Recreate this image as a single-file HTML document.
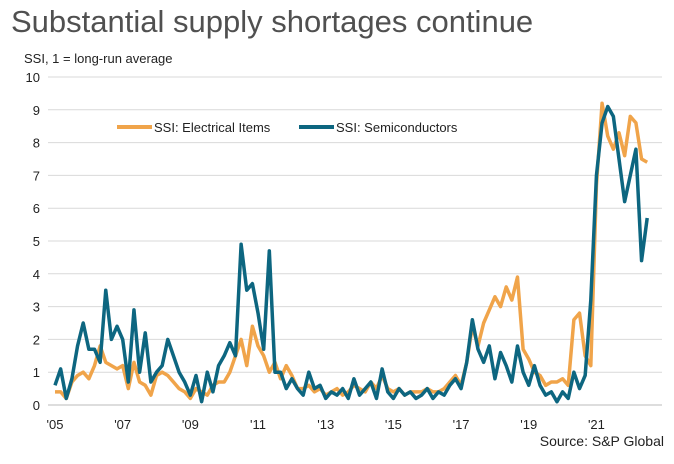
<!DOCTYPE html>
<html><head><meta charset="utf-8"><style>
body{margin:0;background:#fff;font-family:"Liberation Sans",sans-serif}
svg text{font-family:"Liberation Sans",sans-serif}
</style></head><body>
<svg id="chart" width="674" height="459">
<text x="11" y="32" font-size="31" fill="#505050">Substantial supply shortages continue</text>
<text x="24" y="63" font-size="13" fill="#222">SSI, 1 = long-run average</text>
<g id="grid"></g><g id="series"></g>
<g>
<line x1="117" y1="127" x2="152" y2="127" stroke="#f0a44a" stroke-width="4"/>
<text x="154" y="132" font-size="13" fill="#222">SSI: Electrical Items</text>
<line x1="299" y1="127" x2="334" y2="127" stroke="#0d6680" stroke-width="4"/>
<text x="336" y="132" font-size="13" fill="#222">SSI: Semiconductors</text>
</g>
<text x="664" y="446" font-size="14" fill="#222" text-anchor="end">Source: S&amp;P Global</text>
</svg>
<script>
const yTicks=[0,1,2,3,4,5,6,7,8,9,10];
const xTickLabels=["'05","'07","'09","'11","'13","'15","'17","'19","'21"];
const xTickMonths=[0,24,48,72,96,120,144,168,192];
const semiconductors=[0.6,1.1,0.2,0.8,1.8,2.5,1.7,1.7,1.3,3.5,2.0,2.4,2.0,0.7,2.9,1.0,2.2,0.7,1.0,1.2,2.0,1.5,1.0,0.7,0.3,0.9,0.1,1.0,0.4,1.2,1.5,1.9,1.5,4.9,3.5,3.7,2.8,1.7,4.7,1.0,1.0,0.5,0.8,0.5,0.3,1.0,0.5,0.6,0.2,0.4,0.3,0.5,0.2,0.8,0.3,0.5,0.7,0.2,1.1,0.4,0.2,0.5,0.3,0.4,0.2,0.3,0.5,0.2,0.4,0.3,0.6,0.8,0.5,1.3,2.6,1.7,1.3,1.8,0.8,1.6,1.2,0.7,1.8,1.0,0.6,1.2,0.6,0.3,0.4,0.1,0.4,0.2,1.0,0.5,0.9,3.2,7.0,8.6,9.1,8.8,7.5,6.2,7.0,7.8,4.4,5.7];
const electrical=[0.4,0.4,0.2,0.7,0.9,1.0,0.8,1.2,1.8,1.3,1.2,1.1,1.2,0.5,1.3,0.7,0.6,0.3,0.9,1.0,0.9,0.7,0.5,0.4,0.2,0.5,0.4,0.3,0.6,0.7,0.7,1.0,1.5,2.0,1.2,2.4,1.8,1.5,1.0,1.3,0.8,1.2,0.9,0.5,0.5,0.6,0.4,0.5,0.3,0.4,0.5,0.3,0.4,0.6,0.5,0.4,0.7,0.5,0.9,0.5,0.4,0.5,0.3,0.4,0.4,0.4,0.5,0.4,0.4,0.5,0.7,0.9,0.6,1.3,2.4,1.8,2.5,2.9,3.3,3.0,3.6,3.2,3.9,1.7,1.4,1.0,0.9,0.6,0.7,0.7,0.8,0.6,2.6,2.8,1.5,1.2,6.7,9.2,8.2,7.8,8.3,7.6,8.8,8.6,7.5,7.4];
const monthStep=2;
const NS="http://www.w3.org/2000/svg";
function xs(m){return 55+m*2.82;}
function ys(v){return 405-v*32.8;}
const grid=document.getElementById('grid');
yTicks.forEach(t=>{
 const l=document.createElementNS(NS,'line');
 l.setAttribute('x1',48);l.setAttribute('x2',662);l.setAttribute('y1',ys(t));l.setAttribute('y2',ys(t));
 l.setAttribute('stroke',t===0?'#bbb':'#d9d9d9');l.setAttribute('stroke-width',1);
 
 
 grid.appendChild(l);
 const tx=document.createElementNS(NS,'text');
 tx.setAttribute('x',40);tx.setAttribute('y',ys(t)+5);tx.setAttribute('text-anchor','end');tx.setAttribute('font-size','13');tx.setAttribute('fill','#222');
 tx.textContent=t;
 
 
 grid.appendChild(tx);
});
xTickLabels.forEach((lab,i)=>{
 const tx=document.createElementNS(NS,'text');
 tx.setAttribute('x',xs(xTickMonths[i]));tx.setAttribute('y',429);tx.setAttribute('text-anchor','middle');tx.setAttribute('font-size','13');tx.setAttribute('fill','#222');
 tx.textContent=lab;
 
 
 grid.appendChild(tx);
});
function draw(arr,color,name){
 const p=document.createElementNS(NS,'polyline');
 p.setAttribute('points',arr.map((v,i)=>xs(i*monthStep)+','+ys(v)).join(' '));
 p.setAttribute('fill','none');p.setAttribute('stroke',color);p.setAttribute('stroke-width',3.5);p.setAttribute('stroke-linejoin','round');
 
 
 document.getElementById('series').appendChild(p);
}
draw(electrical,'#f0a44a','line-electrical-items');
draw(semiconductors,'#0d6680','line-semiconductors');
</script>
</body></html>
